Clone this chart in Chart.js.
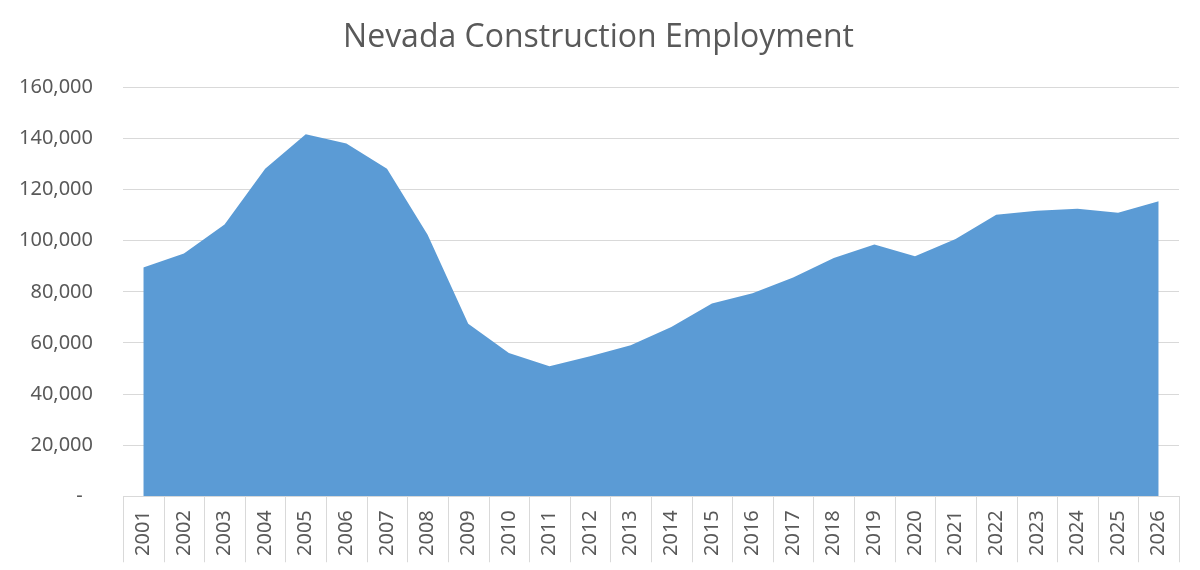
<!DOCTYPE html>
<html>
<head>
<meta charset="utf-8">
<title>Nevada Construction Employment</title>
<script src="https://cdn.jsdelivr.net/npm/chart.js@4/dist/chart.umd.min.js"></script>
<style>
    html, body { margin: 0; padding: 0; background: #ffffff; }
    #wrap { width: 1200px; height: 570px; }
</style>
</head>
<body>
<div id="wrap"><canvas id="employmentChart" width="1200" height="570"></canvas></div>
<script>
// 차트 데이터
const years = ['2001', '2002', '2003', '2004', '2005', '2006', '2007', '2008', '2009', '2010',
    '2011', '2012', '2013', '2014', '2015', '2016', '2017', '2018', '2019', '2020',
    '2021', '2022', '2023', '2024', '2025', '2026'];

const employment = [89500, 95000, 106300, 128200, 141700, 138000, 128200, 102300, 67500, 56100,
    50900, 54800, 59100, 66200, 75400, 79400, 85600, 93200, 98500, 93900,
    100700, 110200, 111700, 112500, 110900, 115400];

const yTicks = [0, 20000, 40000, 60000, 80000, 100000, 120000, 140000, 160000];

// 숫자 포맷팅 (0은 회계 서식처럼 '-')
function formatTick(num) {
    if (num === 0) return '-  ';
    return new Intl.NumberFormat('en-US').format(num);
}

// x축 구분선 (카테고리 사이 세로선, 라벨 영역까지)
const categoryDividers = {
    id: 'categoryDividers',
    afterDraw(chart) {
        const x = chart.scales.x;
        const ctx = chart.ctx;
        const half = (x.getPixelForValue(1) - x.getPixelForValue(0)) / 2;
        ctx.save();
        ctx.strokeStyle = '#d9d9d9';
        ctx.lineWidth = 1;
        ctx.beginPath();
        for (let i = 0; i <= years.length; i++) {
            const px = Math.round(x.getPixelForValue(i) - half) + 0.5;
            ctx.moveTo(px, x.top);
            ctx.lineTo(px, x.top + 66);
        }
        ctx.stroke();
        ctx.restore();
    }
};

function createEmploymentChart() {
    const ctx = document.getElementById('employmentChart').getContext('2d');
    const textColor = '#595959';
    const lineColor = '#d9d9d9';

    new Chart(ctx, {
        type: 'line',
        data: {
            labels: years,
            datasets: [{
                data: employment,
                backgroundColor: '#5b9bd5',
                borderWidth: 0,
                pointRadius: 0,
                tension: 0,
                fill: 'origin'
            }]
        },
        plugins: [categoryDividers],
        options: {
            responsive: false,
            animation: false,
            devicePixelRatio: 1,
            layout: {
                padding: { left: 18, right: 21, top: 19, bottom: 0 }
            },
            plugins: {
                legend: { display: false },
                tooltip: { enabled: false },
                title: {
                    display: true,
                    text: 'Nevada Construction Employment',
                    color: textColor,
                    font: { family: 'Open Sans', size: 32, weight: 'normal' },
                    padding: { top: 0, bottom: 30 }
                }
            },
            scales: {
                x: {
                    offset: true,
                    grid: {
                        offset: true,
                        drawOnChartArea: false,
                        drawTicks: false
                    },
                    border: { color: lineColor, width: 1 },
                    ticks: {
                        color: textColor,
                        font: { family: 'Noto Sans', size: 20 },
                        minRotation: 90,
                        maxRotation: 90,
                        autoSkip: false,
                        padding: 14
                    }
                },
                y: {
                    min: 0,
                    max: 160000,
                    afterBuildTicks: function(axis) {
                        axis.ticks = yTicks.map(v => ({ value: v }));
                    },
                    afterFit: function(axis) {
                        axis.width = 105;
                    },
                    grid: {
                        color: lineColor,
                        drawTicks: false
                    },
                    border: { display: false },
                    ticks: {
                        color: textColor,
                        font: { family: 'Noto Sans', size: 20 },
                        padding: 30,
                        callback: function(value) {
                            return formatTick(value);
                        }
                    }
                }
            }
        }
    });
}

function init() {
    createEmploymentChart();
}

document.addEventListener('DOMContentLoaded', init);
</script>
</body>
</html>
